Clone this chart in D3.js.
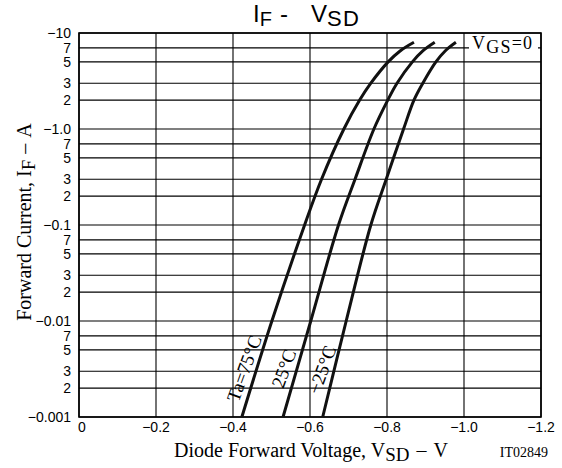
<!DOCTYPE html>
<html lang="en">
<head>
<meta charset="UTF-8">
<title>IF - VSD</title>
<script src="https://d3js.org/d3.v7.min.js"></script>
<style>
  body { margin: 0; background: #fff; }
  .sans { font-family: "Liberation Sans", Arial, sans-serif; }
  .serif { font-family: "Liberation Serif", "Times New Roman", serif; }
</style>
</head>
<body>
<svg id="chart" width="562" height="468"></svg>
<script>
// axis ticks
const xTicks = [0, -0.2, -0.4, -0.6, -0.8, -1.0, -1.2];
const xTickLabels = ["0", "−0.2", "−0.4", "−0.6", "−0.8", "−1.0", "−1.2"];
const yTicks = [-10, -7, -5, -3, -2, -1, -0.7, -0.5, -0.3, -0.2,
                -0.1, -0.07, -0.05, -0.03, -0.02, -0.01, -0.007, -0.005, -0.003, -0.002, -0.001];
const yTickLabels = ["−10", "7", "5", "3", "2", "−1.0", "7", "5", "3", "2",
                     "−0.1", "7", "5", "3", "2", "−0.01", "7", "5", "3", "2", "−0.001"];

// curves (IF in A, VSD in V for each temperature)
const currents = [-0.001, -0.01, -0.1, -0.3, -1.0, -2.0, -3.0, -5.0, -6.5, -8.0];
const vsd75  = [-0.423, -0.501, -0.586, -0.630, -0.688, -0.729, -0.758, -0.803, -0.834, -0.870];
const vsd25  = [-0.530, -0.602, -0.674, -0.717, -0.766, -0.802, -0.826, -0.866, -0.893, -0.924];
const vsdM25 = [-0.633, -0.694, -0.758, -0.798, -0.843, -0.870, -0.893, -0.927, -0.951, -0.979];

const curveNames = ["Ta=75°C", "25°C", "−25°C"];
const labelV = [-0.429, -0.532, -0.631];
const labelI = [-0.0032, -0.0032, -0.0031];

const margin = { left: 79, right: 21, top: 33, bottom: 51 };
const W = 562, H = 468;
const svg = d3.select("#chart");

const x = d3.scaleLinear().domain([0, -1.2]).range([margin.left, W - margin.right]);
const y = d3.scaleLog().domain([-0.001, -10]).range([H - margin.bottom, margin.top]);

// grid
const grid = svg.append("g").attr("stroke", "#000").attr("stroke-width", 1.1);
grid.selectAll(".hl").data(yTicks).enter().append("line")
    .attr("x1", x(0)).attr("x2", x(-1.2))
    .attr("y1", d => y(d)).attr("y2", d => y(d));
grid.selectAll(".vl").data(xTicks).enter().append("line")
    .attr("x1", d => x(d)).attr("x2", d => x(d))
    .attr("y1", y(-0.001)).attr("y2", y(-10));

svg.append("rect")
    .attr("x", x(0)).attr("y", y(-10))
    .attr("width", x(-1.2) - x(0)).attr("height", y(-0.001) - y(-10))
    .attr("fill", "none").attr("stroke", "#000").attr("stroke-width", 1.6);

// tick labels
svg.append("g").attr("class", "sans").attr("font-size", 14)
    .selectAll("text").data(yTicks).enter().append("text")
    .attr("x", x(0) - 8).attr("y", d => y(d))
    .attr("dy", "0.36em").attr("text-anchor", "end")
    .text((d, i) => yTickLabels[i]);
svg.append("g").attr("class", "sans").attr("font-size", 14)
    .selectAll("text").data(xTicks).enter().append("text")
    .attr("x", (d, i) => x(d) + (i === 0 ? 3 : 0)).attr("y", y(-0.001) + 15)
    .attr("text-anchor", "middle")
    .text((d, i) => xTickLabels[i]);

// curves
const line = d3.line().x(d => x(d[0])).y(d => y(d[1])).curve(d3.curveCatmullRom.alpha(0.5));
[vsd75, vsd25, vsdM25].forEach(vs => {
    svg.append("path")
        .datum(vs.map((v, i) => [v, currents[i]]))
        .attr("d", line)
        .attr("fill", "none").attr("stroke", "#111")
        .attr("stroke-width", 3);
});

// curve labels
curveNames.forEach((name, i) => {
    const px = x(labelV[i]), py = y(labelI[i]);
    svg.append("text").attr("class", "serif").attr("font-size", 19)
        .attr("text-anchor", "middle").attr("dominant-baseline", "central")
        .attr("transform", `translate(${px},${py}) rotate(-70)`)
        .text(name);
});

// VGS=0 legend
svg.append("rect").attr("x", 469).attr("y", 35).attr("width", 69).attr("height", 20).attr("fill", "#fff");
const vgs = svg.append("text").attr("class", "serif").attr("font-size", 18)
    .attr("x", 472).attr("y", 49).attr("letter-spacing", 1.2);
vgs.append("tspan").text("V");
vgs.append("tspan").attr("dy", 4).text("GS");
vgs.append("tspan").attr("dy", -4).text("=0");

// title
const title = svg.append("text").attr("class", "sans").attr("font-size", 24)
    .attr("x", 253).attr("y", 22);
title.append("tspan").text("I");
title.append("tspan").attr("dy", 4).attr("font-size", 20).text("F");
title.append("tspan").attr("dy", -4).attr("dx", 8).text("-");
title.append("tspan").attr("dx", 23).text("V");
title.append("tspan").attr("dy", 4).attr("font-size", 22).attr("letter-spacing", 1.5).text("SD");

// axis titles
const xt = svg.append("text").attr("class", "serif").attr("font-size", 20)
    .attr("x", 311).attr("y", 457).attr("text-anchor", "middle");
xt.append("tspan").text("Diode Forward Voltage, V");
xt.append("tspan").attr("dy", 4).attr("font-size", 19).text("SD");
xt.append("tspan").attr("dy", -4).attr("dx", 7).text("–");
xt.append("tspan").attr("dx", 7).text("V");

const yt = svg.append("text").attr("class", "serif").attr("font-size", 20)
    .attr("transform", "translate(31,222) rotate(-90)").attr("text-anchor", "middle");
yt.append("tspan").text("Forward Current, I");
yt.append("tspan").attr("dy", 4).attr("font-size", 19).text("F");
yt.append("tspan").attr("dy", -4).attr("dx", 6).text("–");
yt.append("tspan").attr("dx", 6).text("A");

svg.append("text").attr("class", "serif").attr("font-size", 14)
    .attr("x", 548).attr("y", 457).attr("text-anchor", "end").text("IT02849");
</script>
</body>
</html>
